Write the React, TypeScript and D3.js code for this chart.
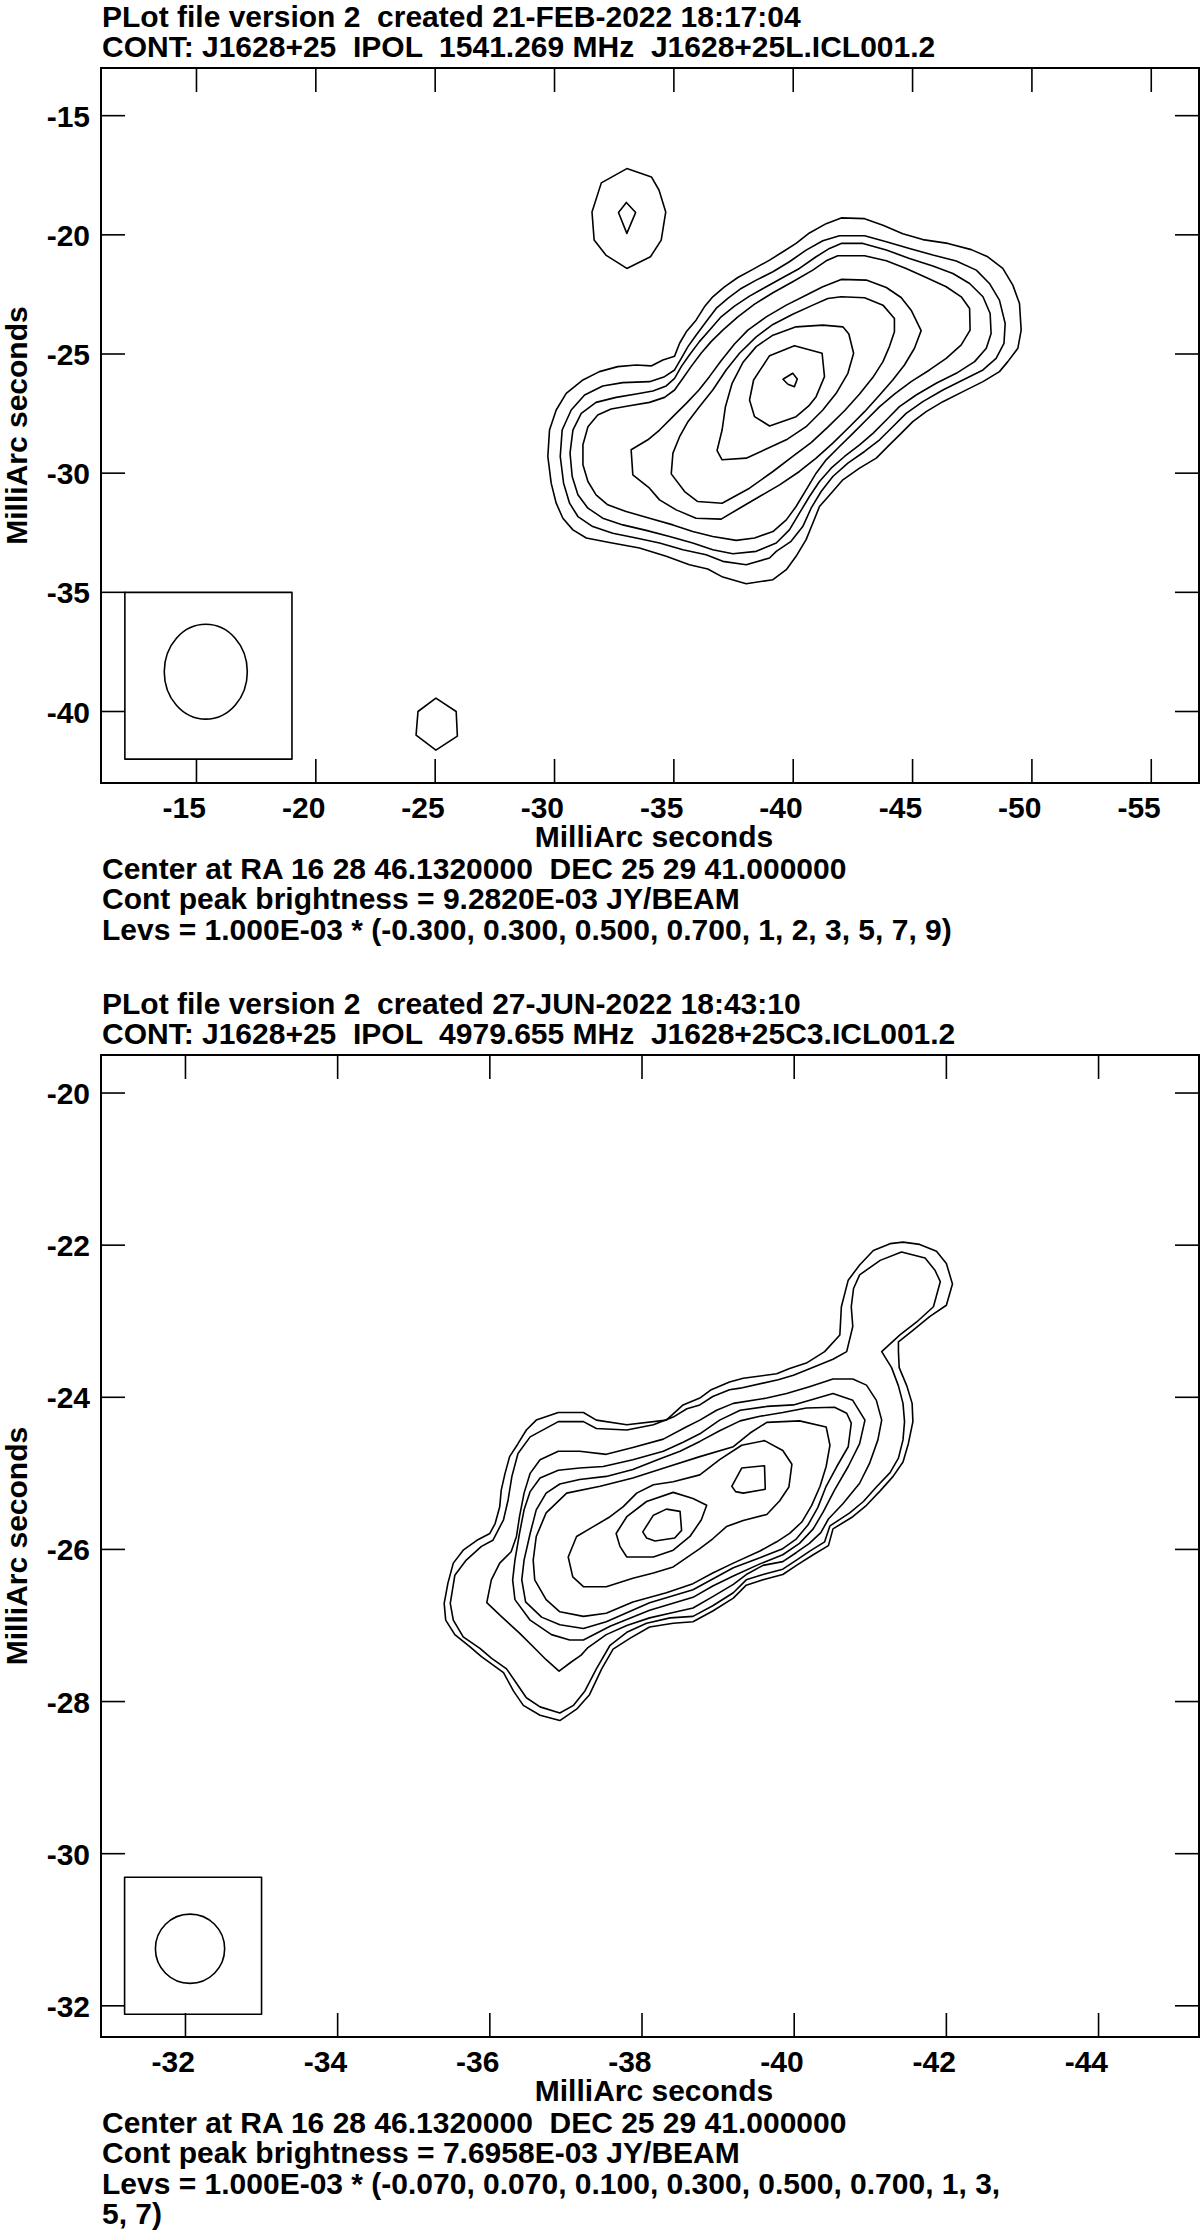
import React from "react";
import * as d3 from "d3";

type Pt = [number, number];

const FONT = "'Liberation Sans', Arial, Helvetica, sans-serif";

// ================= Panel 1 : 1541 MHz =================
const p1Title = [
  "PLot file version 2  created 21-FEB-2022 18:17:04",
  "CONT: J1628+25  IPOL  1541.269 MHz  J1628+25L.ICL001.2",
];
const p1Footer = [
  "Center at RA 16 28 46.1320000  DEC 25 29 41.000000",
  "Cont peak brightness = 9.2820E-03 JY/BEAM",
  "Levs = 1.000E-03 * (-0.300, 0.300, 0.500, 0.700, 1, 2, 3, 5, 7, 9)",
];
const p1XTicks = [-15, -20, -25, -30, -35, -40, -45, -50, -55];
const p1YTicks = [-15, -20, -25, -30, -35, -40];
const p1XDomain: [number, number] = [-11, -57];
const p1YDomain: [number, number] = [-43, -13];
// beam: centre x, centre y, EW width, NS height (mas)
const p1Beam = [-15.39, -38.33, 3.48, 3.98];
// beam box: x0, x1, y0, y1 (mas)
const p1BeamBox = [-12, -19, -35, -42];

const p1_c030: Pt[] = [[-42.01,-19.29],[-42.99,-19.32],[-43.76,-19.60],[-44.59,-19.95],[-45.43,-20.20],[-46.48,-20.36],[-47.46,-20.62],[-48.15,-20.92],[-48.78,-21.41],[-49.20,-22.11],[-49.48,-22.88],[-49.55,-24.00],[-49.41,-24.76],[-48.99,-25.32],[-48.64,-25.74],[-47.95,-26.16],[-47.11,-26.58],[-46.27,-27.00],[-45.57,-27.42],[-45.01,-27.84],[-44.52,-28.33],[-44.03,-28.81],[-43.48,-29.37],[-42.78,-29.79],[-42.08,-30.28],[-41.59,-30.84],[-41.10,-31.40],[-40.82,-32.10],[-40.54,-32.79],[-40.12,-33.49],[-39.71,-34.05],[-39.15,-34.47],[-38.03,-34.64],[-37.05,-34.36],[-36.42,-34.02],[-35.65,-33.84],[-34.68,-33.49],[-33.56,-33.14],[-32.30,-32.91],[-31.33,-32.72],[-30.77,-32.38],[-30.35,-31.89],[-30.07,-31.26],[-29.86,-30.42],[-29.72,-29.30],[-29.79,-28.19],[-30.07,-27.35],[-30.49,-26.65],[-31.19,-26.09],[-31.88,-25.74],[-32.65,-25.53],[-33.42,-25.46],[-34.05,-25.50],[-34.54,-25.25],[-35.03,-25.09],[-35.24,-24.55],[-35.52,-24.07],[-35.93,-23.58],[-36.28,-23.02],[-36.63,-22.60],[-37.12,-22.18],[-37.68,-21.79],[-38.31,-21.45],[-39.01,-21.06],[-39.57,-20.71],[-40.12,-20.36],[-40.68,-19.92],[-41.38,-19.53]];
const p1_c050: Pt[] = [[-41.94,-20.04],[-42.99,-20.04],[-43.90,-20.29],[-44.87,-20.57],[-45.85,-20.85],[-46.83,-21.10],[-47.67,-21.48],[-48.22,-22.04],[-48.64,-22.74],[-48.88,-23.72],[-48.83,-24.55],[-48.50,-25.18],[-47.95,-25.67],[-47.11,-26.09],[-46.27,-26.51],[-45.43,-27.00],[-44.73,-27.49],[-44.17,-28.05],[-43.62,-28.60],[-42.99,-29.09],[-42.29,-29.58],[-41.66,-30.14],[-41.17,-30.77],[-40.75,-31.47],[-40.40,-32.24],[-39.91,-32.86],[-39.29,-33.28],[-39.01,-33.56],[-38.03,-33.84],[-37.05,-33.70],[-36.35,-33.42],[-35.38,-33.21],[-34.40,-32.93],[-33.42,-32.72],[-32.44,-32.52],[-31.60,-32.24],[-30.98,-31.82],[-30.63,-31.26],[-30.38,-30.42],[-30.24,-29.30],[-30.32,-28.19],[-30.70,-27.35],[-31.26,-26.72],[-32.02,-26.34],[-32.86,-26.20],[-33.98,-26.16],[-34.61,-25.95],[-35.03,-25.67],[-35.31,-25.18],[-35.59,-24.69],[-35.93,-24.21],[-36.35,-23.65],[-36.77,-23.09],[-37.26,-22.67],[-37.82,-22.25],[-38.45,-21.90],[-39.15,-21.55],[-39.84,-21.13],[-40.54,-20.64],[-41.24,-20.25]];
const p1_c070: Pt[] = [[-42.01,-20.36],[-42.92,-20.36],[-43.90,-20.64],[-44.87,-20.99],[-45.85,-21.31],[-46.69,-21.62],[-47.39,-22.04],[-47.95,-22.60],[-48.25,-23.30],[-48.29,-24.14],[-48.09,-24.76],[-47.60,-25.32],[-46.83,-25.81],[-45.99,-26.23],[-45.15,-26.72],[-44.45,-27.21],[-43.90,-27.77],[-43.34,-28.33],[-42.78,-28.81],[-42.15,-29.30],[-41.59,-29.79],[-41.10,-30.35],[-40.68,-30.98],[-40.26,-31.68],[-39.84,-32.38],[-39.29,-32.93],[-38.45,-33.28],[-37.47,-33.38],[-36.63,-33.21],[-35.79,-32.93],[-34.82,-32.66],[-33.84,-32.40],[-32.86,-32.17],[-32.02,-31.89],[-31.40,-31.47],[-30.98,-30.91],[-30.74,-30.14],[-30.65,-29.16],[-30.77,-28.19],[-31.12,-27.49],[-31.74,-27.03],[-32.58,-26.82],[-33.42,-26.68],[-34.12,-26.55],[-34.68,-26.34],[-35.03,-26.02],[-35.31,-25.53],[-35.65,-25.04],[-36.07,-24.48],[-36.49,-24.00],[-36.98,-23.44],[-37.54,-22.99],[-38.17,-22.57],[-38.87,-22.18],[-39.57,-21.79],[-40.26,-21.41],[-40.96,-20.92],[-41.52,-20.57]];
const p1_c100: Pt[] = [[-41.87,-20.88],[-42.99,-20.88],[-43.90,-21.09],[-44.73,-21.41],[-45.57,-21.79],[-46.41,-22.18],[-47.04,-22.60],[-47.39,-23.09],[-47.41,-24.00],[-47.04,-24.62],[-46.41,-25.18],[-45.71,-25.67],[-44.94,-26.16],[-44.24,-26.68],[-43.62,-27.21],[-43.06,-27.77],[-42.50,-28.33],[-41.94,-28.88],[-41.38,-29.44],[-40.96,-30.00],[-40.54,-30.70],[-40.12,-31.40],[-39.71,-31.96],[-39.15,-32.45],[-38.38,-32.72],[-37.61,-32.82],[-36.63,-32.66],[-35.79,-32.45],[-34.96,-32.17],[-33.98,-31.89],[-33.00,-31.61],[-32.23,-31.33],[-31.74,-30.91],[-31.40,-30.35],[-31.19,-29.65],[-31.19,-28.81],[-31.40,-28.05],[-31.81,-27.56],[-32.37,-27.31],[-33.14,-27.17],[-33.98,-27.03],[-34.61,-26.82],[-35.03,-26.51],[-35.38,-26.02],[-35.72,-25.53],[-36.14,-24.97],[-36.56,-24.48],[-37.05,-24.00],[-37.68,-23.44],[-38.38,-22.91],[-39.15,-22.43],[-39.98,-21.97],[-40.82,-21.48],[-41.38,-21.09]];
const p1_c200: Pt[] = [[-42.01,-21.87],[-43.06,-21.90],[-43.90,-22.21],[-44.52,-22.63],[-44.94,-23.16],[-45.36,-24.02],[-45.08,-24.76],[-44.66,-25.46],[-44.17,-26.09],[-43.62,-26.72],[-42.99,-27.42],[-42.36,-28.05],[-41.66,-28.74],[-40.96,-29.37],[-40.26,-29.93],[-39.43,-30.49],[-38.59,-30.98],[-37.75,-31.47],[-36.98,-31.93],[-35.93,-31.89],[-35.10,-31.54],[-34.40,-31.12],[-33.98,-30.63],[-33.28,-30.07],[-33.21,-29.02],[-33.91,-28.60],[-34.40,-28.19],[-34.96,-27.63],[-35.52,-27.07],[-36.05,-26.51],[-36.49,-25.95],[-36.98,-25.28],[-37.54,-24.58],[-38.10,-24.00],[-38.87,-23.44],[-39.71,-22.95],[-40.47,-22.57],[-41.24,-22.18]];
const p1_c300: Pt[] = [[-42.01,-22.60],[-42.99,-22.64],[-43.76,-22.95],[-44.24,-23.51],[-44.24,-24.07],[-44.03,-24.69],[-43.76,-25.32],[-43.34,-25.98],[-42.78,-26.68],[-42.15,-27.38],[-41.45,-28.07],[-40.75,-28.72],[-39.98,-29.30],[-39.15,-29.93],[-38.17,-30.63],[-37.02,-31.26],[-36.00,-31.19],[-35.45,-30.77],[-34.89,-30.03],[-34.96,-29.16],[-35.24,-28.47],[-35.59,-27.84],[-36.07,-27.21],[-36.63,-26.51],[-37.19,-25.67],[-37.75,-24.97],[-38.45,-24.28],[-39.15,-23.76],[-39.98,-23.33],[-40.82,-22.95],[-41.45,-22.67]];
const p1_c500: Pt[] = [[-40.12,-23.86],[-41.24,-23.79],[-42.08,-23.86],[-42.33,-24.16],[-42.53,-24.97],[-42.29,-25.81],[-41.80,-26.65],[-41.24,-27.35],[-40.54,-28.05],[-39.71,-28.60],[-38.80,-29.02],[-38.03,-29.37],[-37.02,-29.44],[-36.81,-29.05],[-37.02,-28.19],[-37.16,-27.21],[-37.44,-26.23],[-37.89,-25.36],[-38.45,-24.69],[-39.15,-24.21]];
const p1_c700: Pt[] = [[-40.05,-24.65],[-41.21,-24.97],[-41.31,-25.95],[-40.96,-26.79],[-40.65,-27.18],[-40.12,-27.63],[-39.01,-28.02],[-38.38,-27.63],[-38.17,-26.93],[-38.34,-26.09],[-39.01,-25.07]];
const p1_c900: Pt[] = [[-39.57,-26.06],[-39.98,-25.81],[-40.17,-26.05],[-40.05,-26.37],[-39.78,-26.27]];
const p1_knotOuter: Pt[] = [[-33.03,-17.22],[-34.06,-17.57],[-34.38,-18.13],[-34.66,-19.04],[-34.47,-20.22],[-34.02,-20.92],[-33.03,-21.41],[-32.15,-20.85],[-31.66,-20.22],[-31.57,-19.04],[-31.96,-17.82]];
const p1_knotInner: Pt[] = [[-33.01,-18.64],[-33.40,-19.06],[-33.03,-19.94],[-32.68,-19.06]];
const p1_knotSouth: Pt[] = [[-25.03,-39.44],[-25.88,-40.00],[-25.93,-41.03],[-25.03,-41.62],[-24.20,-40.99],[-24.28,-40.00]];
const p1Contours: Pt[][] = [p1_c030, p1_c050, p1_c070, p1_c100, p1_c200, p1_c300, p1_c500, p1_c700, p1_c900, p1_knotOuter, p1_knotInner, p1_knotSouth];

// ================= Panel 2 : 4980 MHz =================
const p2Title = [
  "PLot file version 2  created 27-JUN-2022 18:43:10",
  "CONT: J1628+25  IPOL  4979.655 MHz  J1628+25C3.ICL001.2",
];
const p2Footer = [
  "Center at RA 16 28 46.1320000  DEC 25 29 41.000000",
  "Cont peak brightness = 7.6958E-03 JY/BEAM",
  "Levs = 1.000E-03 * (-0.070, 0.070, 0.100, 0.300, 0.500, 0.700, 1, 3,",
  "5, 7)",
];
const p2XTicks = [-32, -34, -36, -38, -40, -42, -44];
const p2YTicks = [-20, -22, -24, -26, -28, -30, -32];
const p2XDomain: [number, number] = [-30.89, -45.32];
const p2YDomain: [number, number] = [-32.41, -19.5];
const p2Beam = [-32.06, -31.25, 0.91, 0.91];
const p2BeamBox = [-31.2, -33.0, -30.31, -32.11];

const p2_c007: Pt[] = [[-41.43,-21.96],[-41.65,-21.99],[-41.87,-22.08],[-42.00,-22.24],[-42.08,-22.51],[-42.00,-22.79],[-41.78,-22.94],[-41.56,-23.12],[-41.37,-23.27],[-41.37,-23.40],[-41.38,-23.61],[-41.48,-23.85],[-41.55,-24.08],[-41.56,-24.32],[-41.50,-24.61],[-41.43,-24.85],[-41.30,-25.04],[-41.13,-25.23],[-40.95,-25.42],[-40.77,-25.57],[-40.51,-25.73],[-40.45,-25.95],[-40.25,-26.07],[-40.03,-26.21],[-39.85,-26.33],[-39.59,-26.40],[-39.37,-26.47],[-39.20,-26.64],[-38.93,-26.81],[-38.67,-26.95],[-38.41,-26.97],[-38.10,-27.02],[-37.84,-27.17],[-37.62,-27.31],[-37.47,-27.57],[-37.31,-27.91],[-37.14,-28.10],[-36.92,-28.25],[-36.66,-28.18],[-36.44,-28.05],[-36.31,-27.86],[-36.18,-27.62],[-35.89,-27.41],[-35.74,-27.28],[-35.54,-27.12],[-35.42,-26.93],[-35.40,-26.71],[-35.45,-26.44],[-35.52,-26.18],[-35.65,-26.01],[-35.83,-25.88],[-36.00,-25.79],[-36.07,-25.66],[-36.13,-25.44],[-36.15,-25.22],[-36.20,-25.00],[-36.26,-24.78],[-36.37,-24.61],[-36.48,-24.43],[-36.61,-24.30],[-36.90,-24.20],[-37.23,-24.20],[-37.40,-24.30],[-37.80,-24.36],[-38.32,-24.30],[-38.54,-24.10],[-38.76,-24.01],[-38.91,-23.90],[-39.15,-23.80],[-39.33,-23.75],[-39.77,-23.69],[-39.94,-23.62],[-40.16,-23.55],[-40.40,-23.40],[-40.60,-23.18],[-40.62,-22.81],[-40.71,-22.46],[-40.86,-22.26],[-41.04,-22.07],[-41.26,-21.98]];
const p2_c010: Pt[] = [[-41.41,-22.09],[-41.72,-22.17],[-41.85,-22.33],[-41.92,-22.48],[-41.83,-22.81],[-41.61,-23.01],[-41.39,-23.18],[-41.15,-23.40],[-41.28,-23.61],[-41.37,-23.85],[-41.43,-24.08],[-41.45,-24.32],[-41.43,-24.56],[-41.37,-24.80],[-41.26,-24.99],[-41.08,-25.18],[-40.91,-25.37],[-40.73,-25.52],[-40.47,-25.69],[-40.40,-25.90],[-40.21,-26.02],[-40.03,-26.14],[-39.85,-26.26],[-39.59,-26.33],[-39.37,-26.40],[-39.20,-26.57],[-38.93,-26.74],[-38.67,-26.88],[-38.37,-26.90],[-38.06,-26.97],[-37.80,-27.09],[-37.58,-27.26],[-37.40,-27.57],[-37.25,-27.86],[-37.10,-28.05],[-36.92,-28.15],[-36.66,-28.07],[-36.48,-27.95],[-36.35,-27.76],[-36.22,-27.57],[-36.02,-27.43],[-35.87,-27.30],[-35.65,-27.15],[-35.52,-26.93],[-35.48,-26.71],[-35.54,-26.34],[-35.69,-26.14],[-35.89,-25.96],[-36.04,-25.88],[-36.18,-25.61],[-36.24,-25.35],[-36.29,-25.04],[-36.37,-24.74],[-36.53,-24.52],[-36.90,-24.32],[-37.23,-24.32],[-37.40,-24.41],[-37.80,-24.43],[-38.15,-24.36],[-38.41,-24.26],[-38.59,-24.15],[-38.76,-24.10],[-38.93,-23.99],[-39.15,-23.90],[-39.29,-23.88],[-39.79,-23.77],[-39.99,-23.71],[-40.21,-23.62],[-40.51,-23.50],[-40.69,-23.40],[-40.77,-23.07],[-40.75,-22.81],[-40.78,-22.57],[-40.86,-22.39],[-41.13,-22.20]];
const p2_c030: Pt[] = [[-36.90,-24.71],[-36.66,-24.82],[-36.53,-25.00],[-36.45,-25.26],[-36.39,-25.57],[-36.35,-25.83],[-36.28,-26.03],[-36.13,-26.18],[-36.02,-26.40],[-35.96,-26.70],[-36.15,-26.88],[-36.39,-27.10],[-36.59,-27.30],[-36.74,-27.45],[-36.91,-27.60],[-37.07,-27.48],[-37.20,-27.39],[-37.29,-27.29],[-37.53,-27.12],[-37.80,-27.00],[-38.10,-26.90],[-38.41,-26.83],[-38.67,-26.77],[-38.93,-26.62],[-39.20,-26.46],[-39.37,-26.33],[-39.59,-26.21],[-39.85,-26.16],[-40.03,-26.04],[-40.20,-25.92],[-40.35,-25.78],[-40.45,-25.60],[-40.64,-25.40],[-40.86,-25.13],[-40.99,-24.87],[-41.10,-24.56],[-41.15,-24.30],[-41.08,-24.04],[-40.95,-23.84],[-40.77,-23.76],[-40.51,-23.76],[-40.20,-23.86],[-39.90,-23.95],[-39.64,-24.01],[-39.20,-24.08],[-38.98,-24.17],[-38.76,-24.30],[-38.58,-24.39],[-38.28,-24.55],[-37.88,-24.66],[-37.53,-24.75],[-37.18,-24.71]];
const p2_c050: Pt[] = [[-37.49,-24.91],[-37.18,-24.93],[-36.90,-24.96],[-36.66,-25.06],[-36.53,-25.24],[-36.45,-25.48],[-36.39,-25.79],[-36.33,-26.14],[-36.30,-26.40],[-36.33,-26.66],[-36.53,-26.93],[-36.81,-27.12],[-37.05,-27.19],[-37.23,-27.19],[-37.58,-27.01],[-38.10,-26.80],[-38.67,-26.63],[-38.93,-26.48],[-39.20,-26.35],[-39.55,-26.19],[-39.85,-26.07],[-40.07,-25.92],[-40.25,-25.73],[-40.38,-25.51],[-40.53,-25.22],[-40.71,-24.91],[-40.86,-24.61],[-40.93,-24.30],[-40.77,-24.04],[-40.51,-23.95],[-39.99,-24.10],[-39.64,-24.12],[-39.29,-24.17],[-39.02,-24.30],[-38.76,-24.48],[-38.54,-24.59],[-38.28,-24.71],[-37.88,-24.82]];
const p2_c070: Pt[] = [[-37.53,-25.04],[-37.18,-25.08],[-36.92,-25.14],[-36.74,-25.26],[-36.61,-25.48],[-36.53,-25.79],[-36.45,-26.14],[-36.42,-26.40],[-36.47,-26.69],[-36.68,-26.89],[-36.92,-26.99],[-37.23,-27.04],[-37.53,-26.95],[-38.10,-26.70],[-38.67,-26.53],[-39.20,-26.24],[-39.55,-26.11],[-39.85,-25.99],[-40.03,-25.86],[-40.18,-25.68],[-40.31,-25.45],[-40.42,-25.17],[-40.56,-24.91],[-40.71,-24.65],[-40.75,-24.34],[-40.69,-24.21],[-40.53,-24.13],[-40.16,-24.14],[-39.85,-24.20],[-39.55,-24.25],[-39.29,-24.31],[-39.02,-24.44],[-38.76,-24.58],[-38.50,-24.71],[-38.23,-24.81],[-37.88,-24.95]];
const p2_c100: Pt[] = [[-37.01,-25.26],[-37.45,-25.17],[-37.88,-25.06],[-38.32,-24.92],[-38.76,-24.78],[-39.20,-24.65],[-39.42,-24.47],[-39.64,-24.33],[-40.07,-24.31],[-40.42,-24.39],[-40.47,-24.63],[-40.42,-24.91],[-40.34,-25.17],[-40.23,-25.42],[-40.10,-25.64],[-39.94,-25.79],[-39.77,-25.90],[-39.55,-26.02],[-39.20,-26.18],[-38.93,-26.31],[-38.67,-26.45],[-38.32,-26.57],[-37.88,-26.69],[-37.53,-26.84],[-37.23,-26.88],[-36.92,-26.82],[-36.74,-26.66],[-36.59,-26.40],[-36.57,-26.14],[-36.61,-25.83],[-36.74,-25.52]];
const p2_c300: Pt[] = [[-37.03,-26.10],[-37.14,-25.83],[-37.36,-25.70],[-37.58,-25.57],[-37.75,-25.44],[-37.93,-25.26],[-38.15,-25.15],[-38.41,-25.11],[-38.76,-25.02],[-39.02,-24.82],[-39.31,-24.63],[-39.61,-24.57],[-39.85,-24.70],[-39.97,-24.88],[-39.93,-25.18],[-39.81,-25.36],[-39.64,-25.54],[-39.33,-25.62],[-39.11,-25.70],[-38.93,-25.86],[-38.76,-25.99],[-38.41,-26.23],[-38.15,-26.31],[-37.88,-26.38],[-37.53,-26.49],[-37.23,-26.49],[-37.09,-26.36]];
const p2_c500a: Pt[] = [[-37.66,-25.79],[-37.80,-25.57],[-38.06,-25.37],[-38.41,-25.25],[-38.67,-25.33],[-38.85,-25.42],[-38.78,-25.61],[-38.63,-25.83],[-38.41,-26.01],[-38.15,-26.10],[-37.80,-26.10],[-37.71,-25.96]];
const p2_c500b: Pt[] = [[-39.31,-24.93],[-39.61,-24.90],[-39.62,-25.21],[-39.33,-25.26],[-39.23,-25.24],[-39.18,-25.17],[-39.24,-25.06]];
const p2_c700: Pt[] = [[-38.01,-25.77],[-38.15,-25.55],[-38.32,-25.47],[-38.50,-25.50],[-38.52,-25.75],[-38.43,-25.85],[-38.17,-25.89],[-38.06,-25.85]];
const p2Contours: Pt[][] = [p2_c007, p2_c010, p2_c030, p2_c050, p2_c070, p2_c100, p2_c300, p2_c500a, p2_c500b, p2_c700];

// ================= layout =================
const frame1 = { left: 101, right: 1199, top: 68, bottom: 783 };
const frame2 = { left: 101, right: 1199, top: 1055, bottom: 2037 };

type PanelProps = {
  frame: { left: number; right: number; top: number; bottom: number };
  xDomain: [number, number];
  yDomain: [number, number];
  xTicks: number[];
  yTicks: number[];
  contours: Pt[][];
  beam: number[];
  box: number[];
  title: string[];
  footer: string[];
};

function Panel({ frame, xDomain, yDomain, xTicks, yTicks, contours, beam, box, title, footer }: PanelProps) {
  const x = d3.scaleLinear().domain(xDomain).range([frame.left, frame.right]);
  const y = d3.scaleLinear().domain(yDomain).range([frame.bottom, frame.top]);
  const line = d3
    .line<Pt>()
    .x((d) => x(d[0]))
    .y((d) => y(d[1]))
    .curve(d3.curveLinearClosed);
  const T = 24;
  const textStyle: React.CSSProperties = { whiteSpace: "pre" };
  const cy = (frame.top + frame.bottom) / 2;
  const bx0 = x(box[0]);
  const bx1 = x(box[1]);
  const by0 = y(box[2]);
  const by1 = y(box[3]);
  return (
    <g>
      {title.map((t, i) => (
        <text key={"t" + i} x={102} y={frame.top - 41.5 + i * 30.5} style={textStyle}>
          {t}
        </text>
      ))}
      <rect
        x={frame.left}
        y={frame.top}
        width={frame.right - frame.left}
        height={frame.bottom - frame.top}
        fill="none"
        stroke="#000"
        strokeWidth={2}
      />
      {xTicks.map((t) => (
        <g key={"xt" + t}>
          <line x1={x(t)} x2={x(t)} y1={frame.top} y2={frame.top + T} stroke="#000" strokeWidth={1.6} />
          <line x1={x(t)} x2={x(t)} y1={frame.bottom} y2={frame.bottom - T} stroke="#000" strokeWidth={1.6} />
          <text x={x(t) + 9.5} y={frame.bottom + 35} textAnchor="end">
            {String(t)}
          </text>
        </g>
      ))}
      {yTicks.map((t) => (
        <g key={"yt" + t}>
          <line x1={frame.left} x2={frame.left + T} y1={y(t)} y2={y(t)} stroke="#000" strokeWidth={1.6} />
          <line x1={frame.right} x2={frame.right - T} y1={y(t)} y2={y(t)} stroke="#000" strokeWidth={1.6} />
          <text x={90} y={y(t) + 11} textAnchor="end">
            {String(t)}
          </text>
        </g>
      ))}
      <text x={(frame.left + frame.right) / 2 + 4} y={frame.bottom + 64} textAnchor="middle">
        MilliArc seconds
      </text>
      <text x={27} y={cy} textAnchor="middle" transform={`rotate(-90 27 ${cy})`}>
        MilliArc seconds
      </text>
      {footer.map((t, i) => (
        <text key={"f" + i} x={102} y={frame.bottom + 96 + i * 30.3} style={textStyle}>
          {t}
        </text>
      ))}
      <g fill="none" stroke="#000" strokeWidth={1.6} strokeLinejoin="round">
        {contours.map((c, i) => (
          <path key={"c" + i} d={line(c) || ""} />
        ))}
        <rect
          x={Math.min(bx0, bx1)}
          y={Math.min(by0, by1)}
          width={Math.abs(bx1 - bx0)}
          height={Math.abs(by1 - by0)}
        />
        <ellipse
          cx={x(beam[0])}
          cy={y(beam[1])}
          rx={Math.abs(x(beam[0] + beam[2] / 2) - x(beam[0]))}
          ry={Math.abs(y(beam[1] + beam[3] / 2) - y(beam[1]))}
        />
      </g>
    </g>
  );
}

export default function App() {
  return (
    <svg
      width={1200}
      height={2235}
      viewBox="0 0 1200 2235"
      style={{ position: "absolute", left: 0, top: 0, background: "#fff", display: "block" }}
      fontFamily={FONT}
      fontWeight="bold"
      fontSize={30}
      fill="#000"
    >
      <rect x={0} y={0} width={1200} height={2235} fill="#fff" />
      <Panel
        frame={frame1}
        xDomain={p1XDomain}
        yDomain={p1YDomain}
        xTicks={p1XTicks}
        yTicks={p1YTicks}
        contours={p1Contours}
        beam={p1Beam}
        box={p1BeamBox}
        title={p1Title}
        footer={p1Footer}
      />
      <Panel
        frame={frame2}
        xDomain={p2XDomain}
        yDomain={p2YDomain}
        xTicks={p2XTicks}
        yTicks={p2YTicks}
        contours={p2Contours}
        beam={p2Beam}
        box={p2BeamBox}
        title={p2Title}
        footer={p2Footer}
      />
    </svg>
  );
}
